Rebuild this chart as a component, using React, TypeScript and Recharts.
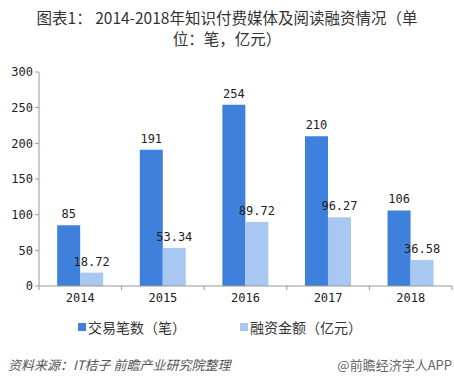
import React from "react";
import { BarChart, Bar, XAxis, YAxis, LabelList } from "recharts";

const years = ["2014", "2015", "2016", "2017", "2018"];
const deals = [85, 191, 254, 210, 106];
const funding = [18.72, 53.34, 89.72, 96.27, 36.58];
const yTicks = [0, 50, 100, 150, 200, 250, 300];
const seriesNames = ["交易笔数（笔）", "融资金额（亿元）"];
const seriesColors = ["#3f80dd", "#a8c8f2"];

const data = years.map((year, i) => ({ year, deals: deals[i], funding: funding[i] }));

const W = 454;
const H = 383;
const plotLeft = 39;
const plotRight = 2;
const band = (W - plotLeft - plotRight) / years.length;

const monoFont = "'DejaVu Sans Mono', monospace";
const cjkFont = "'Noto Sans CJK SC', sans-serif";

function YearTick(props: any) {
  const { x, y, payload, index } = props;
  const last = index === years.length - 1;
  return (
    <g>
      <line x1={x - band / 2} y1={y - 8} x2={x - band / 2} y2={y - 4} stroke="#999" />
      {last && <line x1={x + band / 2} y1={y - 8} x2={x + band / 2} y2={y - 4} stroke="#999" />}
      <text x={x} y={y + 8} textAnchor="middle" fill="#222" fontSize={12} fontFamily={monoFont}>
        {payload.value}
      </text>
    </g>
  );
}

export default function App() {
  return (
    <div style={{ position: "absolute", left: 0, top: 0, width: W, height: H, background: "#fff", fontFamily: cjkFont }}>
      <div style={{ position: "absolute", top: 7, left: 0, width: W, textAlign: "center", fontSize: 15.5, lineHeight: "21px", color: "#333" }}>
        <div>图表1： 2014-2018年知识付费媒体及阅读融资情况（单</div>
        <div>位：笔，亿元）</div>
      </div>
      <BarChart
        width={W}
        height={H}
        data={data}
        margin={{ top: 72, right: plotRight, left: 0, bottom: 77 }}
        barCategoryGap="22%"
        barGap={0}
      >
        <XAxis dataKey="year" height={20} stroke="#999" tickLine={false} tick={<YearTick />} interval={0} />
        <YAxis
          width={plotLeft}
          domain={[0, 300]}
          ticks={yTicks}
          stroke="#999"
          tickSize={4}
          tick={{ fill: "#222", fontSize: 12, fontFamily: monoFont }}
        />
        <Bar dataKey="deals" name={seriesNames[0]} fill={seriesColors[0]} isAnimationActive={false}>
          <LabelList dataKey="deals" position="top" offset={7} fill="#222" fontSize={12} fontFamily={monoFont} />
        </Bar>
        <Bar dataKey="funding" name={seriesNames[1]} fill={seriesColors[1]} isAnimationActive={false}>
          <LabelList dataKey="funding" position="top" offset={7} fill="#222" fontSize={12} fontFamily={monoFont} />
        </Bar>
      </BarChart>
      <div style={{ position: "absolute", top: 317, left: 78, display: "flex", fontSize: 14, color: "#333", lineHeight: "20px" }}>
        {seriesNames.map((name, i) => (
          <div key={name} style={{ display: "flex", alignItems: "center", marginRight: i === 0 ? 54 : 0 }}>
            <span style={{ width: 8, height: 8, background: seriesColors[i], marginRight: 2, display: "inline-block" }} />
            <span>{name}</span>
          </div>
        ))}
      </div>
      <div style={{ position: "absolute", top: 355, left: 8, fontSize: 13, fontStyle: "italic", color: "#555" }}>
        资料来源：IT桔子 前瞻产业研究院整理
      </div>
      <div style={{ position: "absolute", top: 355, right: 2, fontSize: 13, color: "#666" }}>
        @前瞻经济学人APP
      </div>
    </div>
  );
}
